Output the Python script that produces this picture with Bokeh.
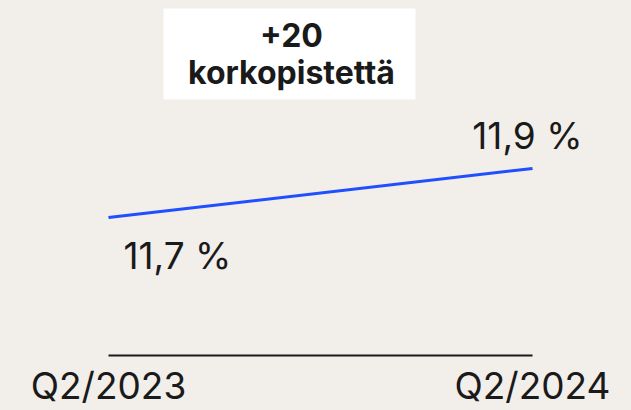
from bokeh.plotting import figure
from bokeh.models import Range1d, FixedTicker, Label, BoxAnnotation, GlobalInlineStyleSheet
from bokeh.core.properties import value
from bokeh.embed import file_html
from bokeh.resources import INLINE

# ---- data ----
periods = ["Q2/2023", "Q2/2024"]
rates = [11.7, 11.9]
change_title = "+20"
change_unit = "korkopistettä"

BG = "#f2eeea"
INK = "#1a1a1a"
BLUE = "#1f4fff"
FONT = "Inter"

xs = list(range(len(periods)))
labels = [f"{v:.1f} %".replace(".", ",") for v in rates]

p = figure(width=631, height=410, output_backend="svg", toolbar_location=None,
           x_range=Range1d(-0.25472, 1.23349), y_range=Range1d(11.1367, 12.5857),
           y_axis_location=None, min_border_left=0, min_border_right=0,
           min_border_top=0, min_border_bottom=0,
           background_fill_color=BG, border_fill_color=BG, outline_line_color=None)
p.stylesheets = [GlobalInlineStyleSheet(css=f"html, body {{ background-color: {BG}; }}")]
p.grid.visible = False

p.line(xs, rates, line_color=BLUE, line_width=3)

# value labels
p.text(x=[xs[0]], y=[rates[0]], text=[labels[0]], text_font=value(FONT), text_font_size="37px",
       text_color=INK, text_align="left", text_baseline="middle", x_offset=15, y_offset=38)
p.text(x=[xs[1]], y=[rates[1]], text=[labels[1]], text_font=value(FONT), text_font_size="37px",
       text_color=INK, text_align="right", text_baseline="middle", x_offset=50, y_offset=-33)

# x axis
ax = p.xaxis[0]
ax.ticker = FixedTicker(ticks=xs)
ax.major_label_overrides = {i: s for i, s in zip(xs, periods)}
ax.bounds = (xs[0], xs[-1])
ax.axis_line_color = INK
ax.axis_line_width = 2
ax.major_tick_line_color = None
ax.minor_tick_line_color = None
ax.major_tick_out = 0
ax.major_tick_in = 0
ax.major_label_standoff = 7
ax.major_label_text_font = FONT
ax.major_label_text_font_size = "37px"
ax.major_label_text_color = INK

# annotation box
p.add_layout(BoxAnnotation(left=0.1297, right=0.7241, bottom=12.1816, top=12.553,
                           fill_color="white", fill_alpha=1, line_color=None, level="underlay"))
p.add_layout(Label(x=0.4316, y=12.4429, text=change_title, text_font=FONT, text_font_size="32px",
                   text_font_style="bold", text_color=INK, text_align="center", text_baseline="middle"))
p.add_layout(Label(x=0.4316, y=12.2898, text=change_unit, text_font=FONT, text_font_size="32px",
                   text_font_style="bold", text_color=INK, text_align="center", text_baseline="middle"))

open("out.html", "w").write(file_html(p, INLINE))
